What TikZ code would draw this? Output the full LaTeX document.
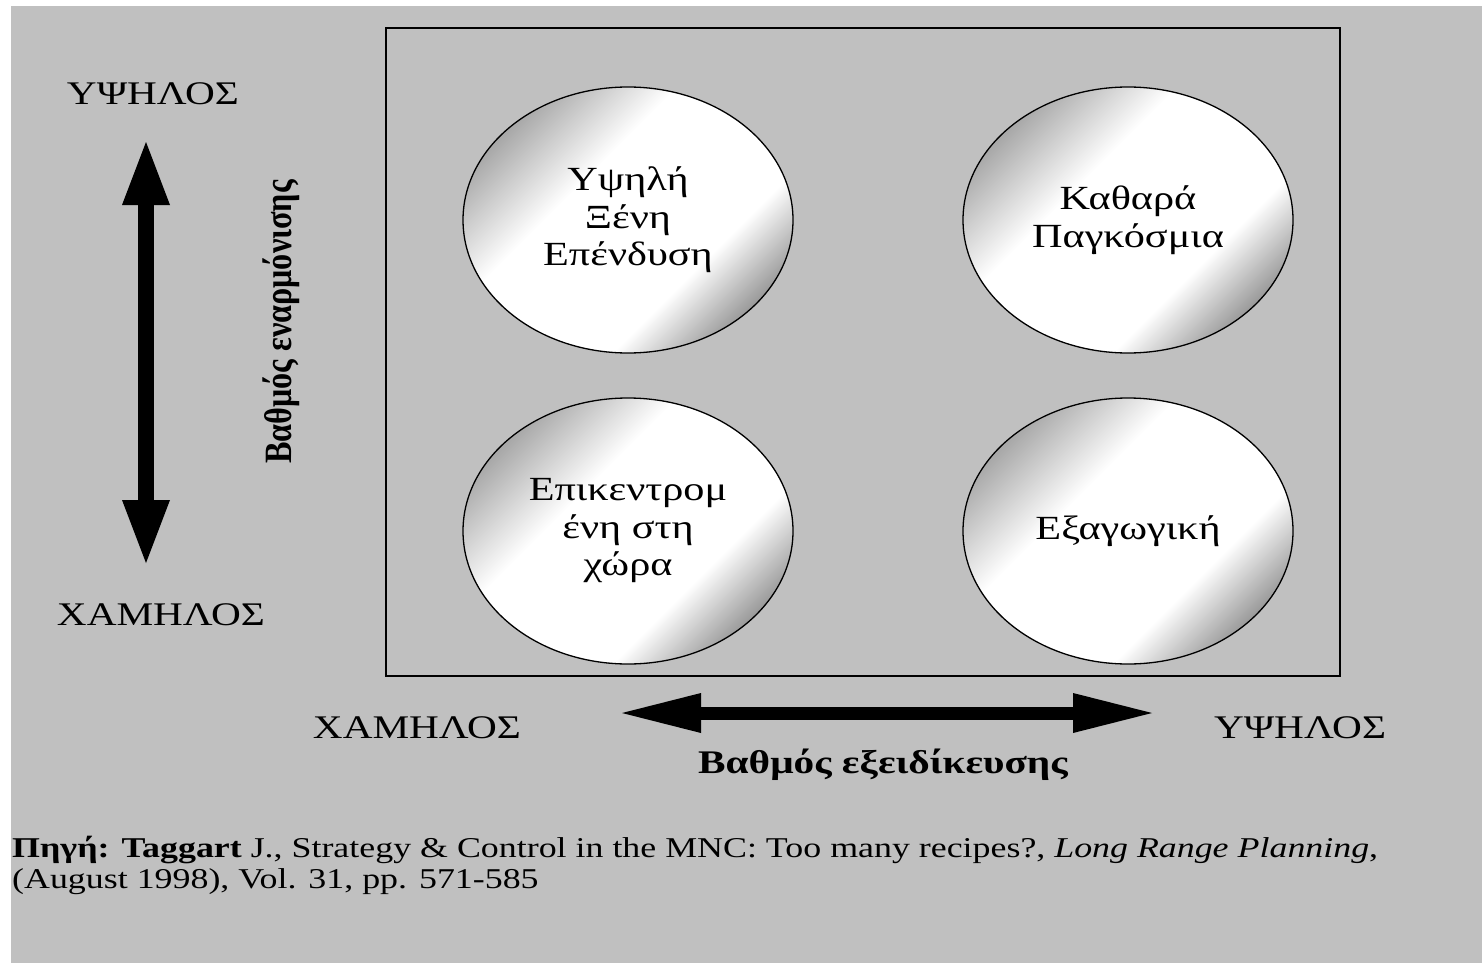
\documentclass[tikz,border=0pt]{standalone}
\usepackage{fontspec}
\setmainfont[FakeStretch=1.25]{Liberation Serif}
\newfontfamily\plainserif{Liberation Serif}
\usetikzlibrary{shapes.geometric,arrows.meta}
\definecolor{bggray}{RGB}{192,192,192}
\pgfdeclareverticalshading{orb}{100bp}{color(0bp)=(black!55); color(22bp)=(black!50); color(36bp)=(white); color(60bp)=(white); color(75bp)=(black!34); color(100bp)=(black!38)}
\tikzset{
  lab/.style={font=\fontsize{33}{38}\selectfont, inner sep=0pt, text=black},
  orbnode/.style={ellipse, draw=black, line width=1.3pt, minimum width=330pt, minimum height=266pt,
    shading=orb, shading angle=45, align=center, inner sep=0pt,
    font=\fontsize{33.8}{37.5}\selectfont},
  cite/.style={font=\fontsize{28.7}{32}\selectfont, inner sep=0pt, anchor=base west}
}
\begin{document}
\begin{tikzpicture}[x=1pt,y=-1pt]
\useasboundingbox (0,0) rectangle (1482,963);
\fill[white] (0,0) rectangle (1482,963);
\fill[bggray] (11,6) rectangle (1482,963);

% frame
\draw[line width=2.5pt] (386,28) rectangle (1340,676);

% ellipses
\node[orbnode] (tl) at (628,220) {Υψηλή\\Ξένη\\Επένδυση};
\node[orbnode] (tr) at (1128,220) {Καθαρά\\Παγκόσμια};
\node[orbnode] (bl) at (628,531) {Επικεντρομ\\ένη στη\\χώρα};
\node[orbnode] (br) at (1128,531) {Εξαγωγική};

% vertical axis
\node[lab] (vhigh) at (153,94) {ΥΨΗΛΟΣ};
\node[lab] (vlow) at (161,615) {ΧΑΜΗΛΟΣ};
\coordinate (vtop) at (146,142);
\coordinate (vbot) at (146,563);
\draw[line width=16pt, {Triangle[length=63pt,width=48pt,line width=0pt]}-{Triangle[length=63pt,width=48pt,line width=0pt]}] (vtop) -- (vbot);
\node[rotate=90, inner sep=0pt, font=\plainserif\bfseries\fontsize{32.2}{38}\selectfont] (vlab) at (281,322) {\scalebox{1}[1.2]{Βαθμός εναρμόνισης}};

% horizontal axis
\node[lab] (hlow) at (417,728) {ΧΑΜΗΛΟΣ};
\node[lab] (hhigh) at (1300,728) {ΥΨΗΛΟΣ};
\coordinate (hleft) at (622,713);
\coordinate (hright) at (1152,713);
\draw[line width=13pt, {Triangle[length=79pt,width=40pt,line width=0pt]}-{Triangle[length=79pt,width=40pt,line width=0pt]}] (hleft) -- (hright);
\node[lab, font=\bfseries\fontsize{33}{38}\selectfont] (hlab) at (883,765) {Βαθμός εξειδίκευσης};

% source
\node[cite] (src1) at (12,857) {\textbf{Πηγή: Taggart} J., Strategy \& Control in the MNC: Too many recipes?, \textit{Long Range Planning},};
\node[cite] (src2) at (12,888) {(August 1998), Vol. 31, pp. 571-585};
\end{tikzpicture}
\end{document}
